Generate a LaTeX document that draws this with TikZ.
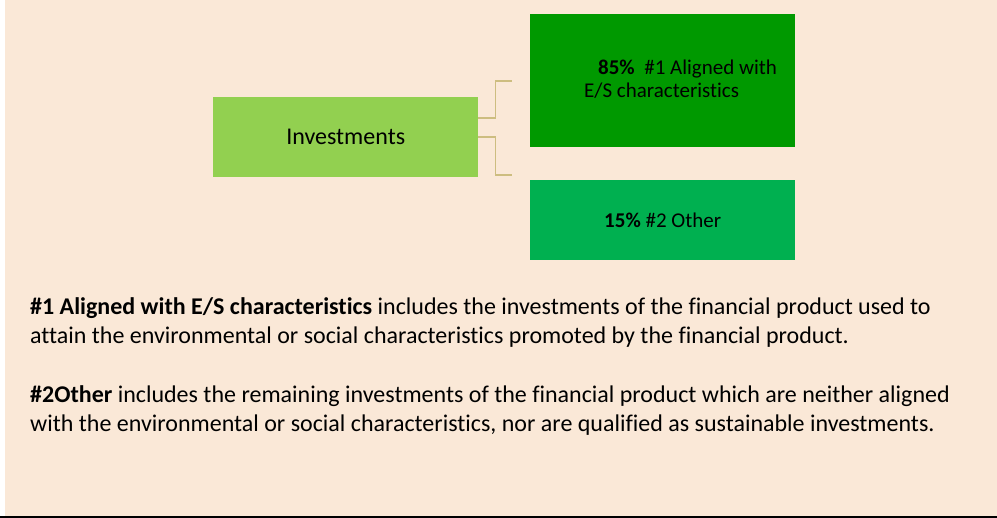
\documentclass[tikz,border=0pt]{standalone}
\usepackage{fontspec}
\setmainfont{Carlito}[Ligatures={NoCommon}]
\definecolor{peach}{HTML}{FAE8D7}
\definecolor{invgreen}{HTML}{92D050}
\definecolor{esgreen}{HTML}{009900}
\definecolor{othergreen}{HTML}{00B050}
\definecolor{tan}{HTML}{CDBD80}
\begin{document}
\begin{tikzpicture}[x=1pt,y=-1pt,
    box/.style={anchor=north west,inner sep=0pt,minimum width=265pt},
    conn/.style={draw=tan,line width=1.8pt},
    body/.style={anchor=north west,inner sep=0pt,align=left,font=\fontsize{24}{29.5}\selectfont}]
      \useasboundingbox (0,0) rectangle (997,518);
      \fill[peach] (5,0) rectangle (997,516);
      \draw[line width=2pt] (0,517) -- (997,517);

      % boxes
      \node[box,fill=invgreen,minimum height=80pt,font=\fontsize{24}{28}\selectfont] (inv) at (213,97) {Investments};
      \node[box,fill=esgreen,minimum height=133pt] (aligned) at (530,14) {};
      \node[anchor=north west,inner sep=0pt,align=left,font=\fontsize{21}{23}\selectfont] (alignedtxt) at (584,60)
        {\hspace{14pt}\textbf{85\%}\ \ \#1 Aligned with\\E/S characteristics};
      \node[box,fill=othergreen,minimum height=80pt,font=\fontsize{21}{22}\selectfont] (other) at (530,180) {\textbf{15\%} \#2 Other};

      % connectors
      \coordinate (endtop) at (512,81);
      \coordinate (endbot) at (512,175);
      \draw[conn] ([yshift=19pt]inv.east) -- ++(17,0) |- (endtop);
      \draw[conn] (inv.east) -- ++(17,0) |- (endbot);

      % explanations
      \node[body] (txtone) at (30,297) {\textbf{\#1 Aligned with E/S characteristics} includes the investments of the financial product used to\\
        attain the environmental or social characteristics promoted by the financial product.};
      \node[body] (txttwo) at (30,385) {\textbf{\#2Other} includes the remaining investments of the financial product which are neither aligned\\
        with the environmental or social characteristics, nor are qualified as sustainable investments.};
\end{tikzpicture}
\end{document}
